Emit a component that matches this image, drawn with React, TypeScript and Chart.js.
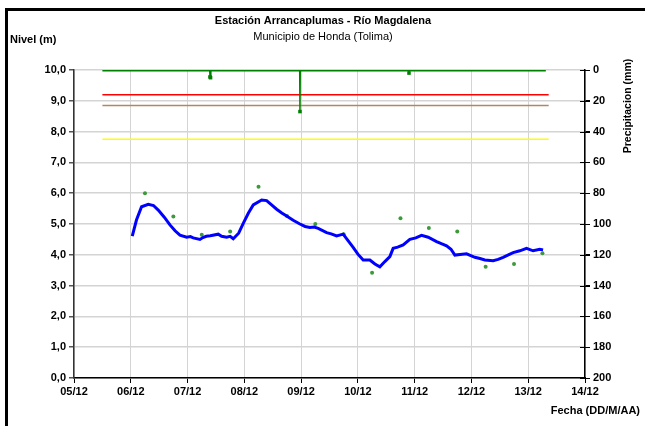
import React, { useEffect, useRef } from "react";
import { Chart, registerables } from "chart.js";

Chart.register(...registerables);

// ---- data ----
const dateLabels = ["05/12", "06/12", "07/12", "08/12", "09/12", "10/12", "11/12", "12/12", "13/12", "14/12"];

// water level (continuous record): time in days after 05/12 00:00, level in m
const levelDays = [
  1.026, 1.10, 1.19, 1.308, 1.40, 1.484, 1.59, 1.690, 1.78, 1.866, 1.984, 2.05, 2.10, 2.218, 2.27, 2.33, 2.40,
  2.540, 2.60, 2.688, 2.75, 2.805, 2.90, 2.981, 3.07, 3.157, 3.305, 3.393, 3.48, 3.569, 3.66, 3.745, 3.86,
  3.979, 4.07, 4.155, 4.23, 4.301, 4.449, 4.53, 4.625, 4.741, 4.83, 4.917, 5.00, 5.093, 5.211, 5.30, 5.387,
  5.475, 5.563, 5.621, 5.70, 5.798, 5.915, 6.02, 6.121, 6.238, 6.386, 6.47, 6.562, 6.64, 6.708, 6.80, 6.914,
  7.060, 7.15, 7.236, 7.382, 7.47, 7.558, 7.65, 7.734, 7.852, 7.970, 8.086, 8.204, 8.262,
];
const levelValues = [
  4.61, 5.13, 5.56, 5.64, 5.60, 5.45, 5.22, 4.97, 4.78, 4.64, 4.57, 4.59, 4.55, 4.50, 4.56, 4.60, 4.62,
  4.67, 4.60, 4.57, 4.60, 4.52, 4.70, 5.02, 5.35, 5.62, 5.78, 5.76, 5.62, 5.48, 5.36, 5.26, 5.12,
  5.00, 4.92, 4.89, 4.90, 4.86, 4.72, 4.68, 4.61, 4.67, 4.45, 4.24, 4.02, 3.83, 3.83, 3.70, 3.61,
  3.78, 3.94, 4.21, 4.25, 4.32, 4.50, 4.55, 4.63, 4.57, 4.43, 4.36, 4.29, 4.18, 3.99, 4.01, 4.03,
  3.92, 3.88, 3.83, 3.81, 3.85, 3.92, 4.00, 4.07, 4.13, 4.21, 4.13, 4.18, 4.16,
];

// manual readings (06:00 and 18:00)
const readingDays = [1.25, 1.75, 2.25, 2.75, 3.25, 3.75, 4.25, 4.75, 5.25, 5.75, 6.25, 6.75, 7.25, 7.75, 8.25];
const readingValues = [6.0, 5.24, 4.65, 4.76, 6.21, 5.26, 5.0, 4.67, 3.42, 5.19, 4.87, 4.76, 3.61, 3.7, 4.05];

// precipitation (mm)
const precipDays = [0.5, 2.39, 2.395, 2.405, 2.41, 3.975, 3.98, 3.985, 5.895, 5.9, 5.905, 8.31];
const precipValues = [0, 0, 4.5, 5, 0, 0, 27, 0, 0, 2, 0, 0];

// reference levels (m)
const thresholdStart = 0.5;
const thresholdEnd = 8.36;
const redLevel = 9.2;
const brownLevel = 8.85;
const yellowLevel = 7.75;

const FONT = "'Liberation Sans', Arial, sans-serif";

const overlay = {
  id: "overlay",
  afterDraw(chart: any) {
    const { ctx } = chart;
    const y2 = chart.scales.y2;
    const area = chart.chartArea;
    ctx.save();
    // cross ticks on right axis
    ctx.strokeStyle = "#000";
    ctx.lineWidth = 1;
    y2.ticks.forEach((t: any) => {
      const py = Math.round(y2.getPixelForValue(t.value)) + 0.5;
      ctx.beginPath();
      ctx.moveTo(area.right - 5, py);
      ctx.lineTo(area.right + 5, py);
      ctx.stroke();
    });
    ctx.fillStyle = "#000";
    ctx.textAlign = "center";
    ctx.textBaseline = "middle";
    ctx.font = `bold 11px ${FONT}`;
    ctx.fillText("Estación Arrancaplumas - Río Magdalena", 323, 21);
    ctx.font = `11px ${FONT}`;
    ctx.fillText("Municipio de Honda (Tolima)", 323, 37);
    ctx.font = `bold 11px ${FONT}`;
    ctx.textAlign = "left";
    ctx.fillText("Nivel (m)", 10, 40);
    ctx.textAlign = "right";
    ctx.fillText("Fecha (DD/M/AA)", 640, 411);
    ctx.translate(628, 106);
    ctx.rotate(-Math.PI / 2);
    ctx.textAlign = "center";
    ctx.font = `bold 10.5px ${FONT}`;
    ctx.fillText("Precipitacion (mm)", 0, 0);
    ctx.restore();
  },
};

export default function App() {
  const ref = useRef<HTMLCanvasElement>(null);
  useEffect(() => {
    const toPts = (xs: number[], ys: number[]) => xs.map((x, i) => ({ x, y: ys[i] }));
    const hline = (v: number) => [
      { x: thresholdStart, y: v },
      { x: thresholdEnd, y: v },
    ];
    const chart = new Chart(ref.current!, {
      type: "line",
      data: {
        datasets: [
          {
            data: toPts(precipDays, precipValues),
            yAxisID: "y2",
            borderColor: "#008000",
            backgroundColor: "#008000",
            borderWidth: 3,
            segment: { borderWidth: (c: any) => (c.p0.parsed.y > 0 || c.p1.parsed.y > 0 ? 1.5 : 3) },
            pointRadius: (c: any) => (c.raw && c.raw.y > 0 ? 2.5 : 0),
            pointStyle: "rect",
            pointBorderWidth: 0,
            tension: 0,
          },
          { data: hline(redLevel), borderColor: "#ff0000", borderWidth: 1.5, pointRadius: 0 },
          { data: hline(brownLevel), borderColor: "#b08860", borderWidth: 1.5, pointRadius: 0 },
          { data: hline(yellowLevel), borderColor: "#ffff00", borderWidth: 1.5, pointRadius: 0 },
          { data: toPts(levelDays, levelValues), borderColor: "#0000ff", borderWidth: 3, pointRadius: 0, tension: 0 },
          { data: toPts(readingDays, readingValues), showLine: false, pointRadius: 2, pointBackgroundColor: "#3c9a3c", pointBorderWidth: 0 },
        ] as any,
      },
      options: {
        animation: false,
        responsive: false,
        maintainAspectRatio: false,
        layout: { padding: { top: 70, left: 0, right: 0, bottom: 0 } },
        plugins: { legend: { display: false }, tooltip: { enabled: false }, title: { display: false } },
        scales: {
          x: {
            type: "linear",
            min: 0,
            max: 9,
            afterFit: (s: any) => { s.height = 48; },
            ticks: { stepSize: 1, color: "#000", font: { family: FONT, size: 11, weight: "bold" }, padding: 2, maxRotation: 0, callback: (v: any) => dateLabels[Math.round(v)] ?? "" },
            grid: { color: "#d4d4d4", lineWidth: 1, tickColor: "#000", tickLength: 5 },
            border: { color: "#000", width: 1.5 },
          },
          y: {
            position: "left",
            min: 0,
            max: 10,
            afterFit: (s: any) => { s.width = 74; },
            ticks: { stepSize: 1, color: "#000", font: { family: FONT, size: 11, weight: "bold" }, padding: 3, callback: (v: any) => Number(v).toFixed(1).replace(".", ",") },
            grid: { color: "#d4d4d4", lineWidth: 1.5, tickColor: "#555", tickLength: 5 },
            border: { color: "#333", width: 1.5 },
          },
          y2: {
            position: "right",
            reverse: true,
            min: 0,
            max: 200,
            afterFit: (s: any) => { s.width = 60; },
            ticks: { stepSize: 20, color: "#000", font: { family: FONT, size: 11, weight: "bold" }, padding: 3 },
            grid: { drawOnChartArea: false, tickLength: 5, tickColor: "#000" },
            border: { color: "#000", width: 1.5 },
          },
        },
      },
      plugins: [overlay],
    });
    return () => chart.destroy();
  }, []);
  return (
    <div style={{ position: "fixed", left: 0, top: 0, width: 645, height: 426, background: "#fff" }}>
      <canvas ref={ref} width={645} height={426} style={{ position: "absolute", left: 0, top: 0 }} />
      <div style={{ position: "absolute", left: 5, top: 8, width: 640, height: 418, borderTop: "3px solid #000", borderLeft: "3px solid #000", boxSizing: "border-box", pointerEvents: "none" }} />
    </div>
  );
}
